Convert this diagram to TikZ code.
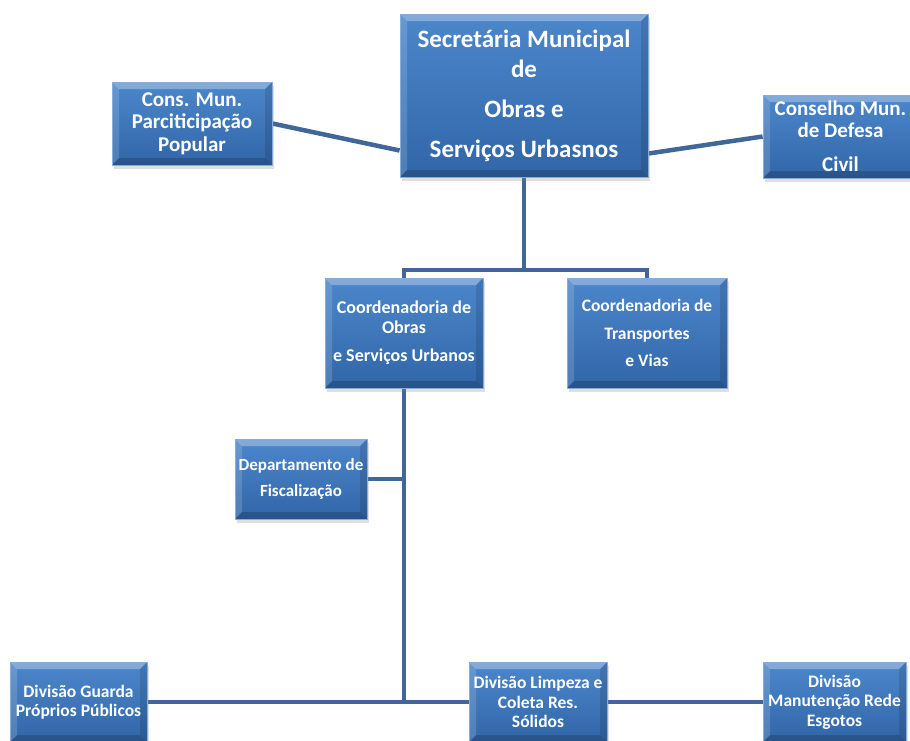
\documentclass[tikz,border=0pt]{standalone}
\usepackage{fontspec}
\setmainfont{Carlito}
\usetikzlibrary{shadows,backgrounds}
\definecolor{boxtop}{HTML}{4C87CB}
\definecolor{boxbot}{HTML}{3166A8}
\definecolor{boxedge}{HTML}{86AEDD}
\definecolor{linkc}{HTML}{41679A}
\tikzset{
  orgbox/.style={rectangle, top color=boxtop, bottom color=boxbot,
    draw=boxedge, line width=0.8pt, inner sep=0pt, align=center, text=white,
    drop shadow={opacity=0.25, shadow xshift=2pt, shadow yshift=-4pt},
    path picture={
      \fill[white,opacity=0.30] (path picture bounding box.north west) -- (path picture bounding box.north east)
        -- ([xshift=-7pt,yshift=-7pt]path picture bounding box.north east) -- ([xshift=7pt,yshift=-7pt]path picture bounding box.north west) -- cycle;
      \fill[white,opacity=0.15] (path picture bounding box.north west) -- ([xshift=7pt,yshift=-7pt]path picture bounding box.north west)
        -- ([xshift=7pt,yshift=7pt]path picture bounding box.south west) -- (path picture bounding box.south west) -- cycle;
      \fill[black,opacity=0.12] (path picture bounding box.north east) -- ([xshift=-7pt,yshift=-7pt]path picture bounding box.north east)
        -- ([xshift=-7pt,yshift=7pt]path picture bounding box.south east) -- (path picture bounding box.south east) -- cycle;
      \fill[black,opacity=0.18] (path picture bounding box.south west) -- ([xshift=7pt,yshift=7pt]path picture bounding box.south west)
        -- ([xshift=-7pt,yshift=7pt]path picture bounding box.south east) -- (path picture bounding box.south east) -- cycle;
    }},
  link/.style={draw=linkc, line width=4.5pt},
}
\begin{document}
\begin{tikzpicture}[x=1pt,y=-1pt]
\useasboundingbox (0,0) rectangle (910,740);
\clip (0,0) rectangle (910,740);

\node[orgbox, minimum width=248, minimum height=163, font=\bfseries\fontsize{25}{30}\selectfont] (sec) at (524,95.5)
  {Secretária Municipal\\ de\\[10pt] Obras e\\[10pt] Serviços Urbasnos};
\node[orgbox, minimum width=160, minimum height=83, font=\bfseries\fontsize{21}{22.5}\selectfont] (cons) at (192,123.5)
  {Cons. Mun.\\ Parciticipação\\ Popular};
\node[orgbox, minimum width=155, minimum height=83, font=\bfseries\fontsize{21}{22}\selectfont] (def) at (840.5,136.5)
  {Conselho Mun.\\ de Defesa\\[12pt] Civil};
\node[orgbox, minimum width=158, minimum height=110, font=\bfseries\fontsize{18}{20}\selectfont] (co1) at (404,333)
  {Coordenadoria de\\ Obras\\[8pt] e Serviços Urbanos};
\node[orgbox, minimum width=160, minimum height=110, font=\bfseries\fontsize{17.5}{27.5}\selectfont] (co2) at (647,333)
  {Coordenadoria de\\ Transportes\\ e Vias};
\node[orgbox, minimum width=132, minimum height=80, font=\bfseries\fontsize{17}{26}\selectfont] (dep) at (301,479)
  {Departamento de\\ Fiscalização};
\node[orgbox, minimum width=137, minimum height=80, font=\bfseries\fontsize{17.5}{19.5}\selectfont] (dg) at (78.5,702)
  {Divisão Guarda\\ Próprios Públicos};
\node[orgbox, minimum width=138, minimum height=80, font=\bfseries\fontsize{17.5}{19.5}\selectfont] (dl) at (538,702)
  {Divisão Limpeza e\\ Coleta Res.\\ Sólidos};
\node[orgbox, minimum width=143, minimum height=80, font=\bfseries\fontsize{17.5}{19.5}\selectfont] (dm) at (834.5,702)
  {Divisão\\ Manutenção Rede\\ Esgotos};

\coordinate (j) at (524,270);
\begin{scope}[on background layer]
\draw[link] (cons.east) -- ([yshift=-55pt]sec.west);
\draw[link] ([yshift=-58pt]sec.east) -- (def.west);
\draw[link] (sec.south) -- (j);
\draw[link] (co1.north) |- (j) -| (co2.north);
\draw[link] (co1.south) -- (co1.south |- dl.west);
\draw[link] (dep.east) -- (co1.south |- dep.east);
\draw[link] (dg.east) -- (dl.west);
\draw[link] (dl.east) -- (dm.west);
\end{scope}
\end{tikzpicture}
\end{document}
